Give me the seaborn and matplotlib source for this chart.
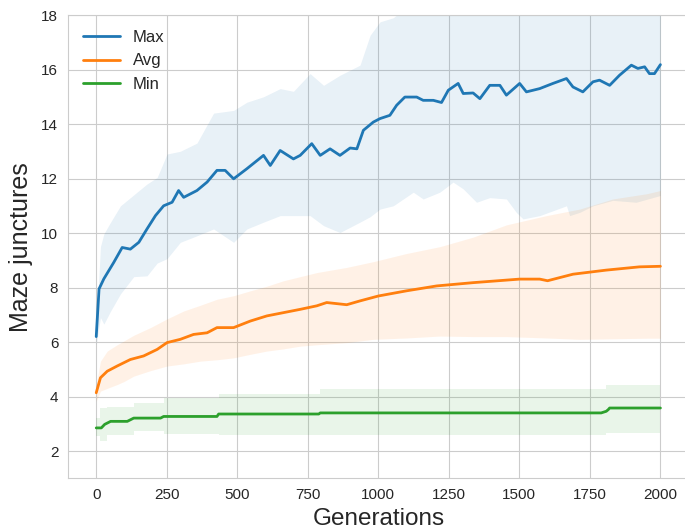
import numpy as np
import pandas as pd
import matplotlib
matplotlib.use("Agg")
import matplotlib.pyplot as plt
import seaborn as sns

# --- Max junctures per generation (mean line) ---
max_gen = [0, 10, 27, 62, 92, 121, 151, 180, 210, 239, 269, 292, 310, 357, 393,
           428, 457, 487, 534, 593, 617, 652, 699, 723, 764, 794, 829, 864, 900,
           924, 947, 982, 1006, 1041, 1065, 1094, 1136, 1159, 1195, 1224, 1248,
           1283, 1301, 1336, 1360, 1395, 1431, 1454, 1501, 1525, 1572, 1619, 1667,
           1690, 1725, 1761, 1784, 1820, 1855, 1897, 1920, 1944, 1961, 1979, 2000]
max_val = [6.2, 7.95, 8.32, 8.92, 9.47, 9.41, 9.66, 10.15, 10.64, 11.0, 11.13,
           11.56, 11.31, 11.56, 11.87, 12.30, 12.30, 11.99, 12.36, 12.85, 12.48,
           13.03, 12.72, 12.85, 13.28, 12.85, 13.09, 12.85, 13.12, 13.09, 13.77,
           14.07, 14.2, 14.32, 14.69, 14.99, 14.99, 14.87, 14.87, 14.79, 15.24,
           15.49, 15.12, 15.14, 14.93, 15.42, 15.42, 15.06, 15.49, 15.18, 15.30,
           15.49, 15.67, 15.36, 15.18, 15.55, 15.61, 15.42, 15.79, 16.16, 16.04,
           16.10, 15.85, 15.85, 16.18]

# Max spread (mean - std, mean + std)
max_band_gen = [0, 15, 27, 51, 86, 133, 180, 216, 251, 298, 357, 416, 487, 534,
                593, 652, 699, 758, 806, 864, 935, 971, 1006, 1053, 1124, 1159,
                1218, 1265, 1301, 1348, 1395, 1454, 1489, 1513, 1572, 1667, 1678,
                1714, 1761, 1831, 1914, 2000]
max_lo = [5.9, 6.9, 6.66, 7.14, 7.77, 8.4, 8.43, 8.9, 9.06, 9.66, 9.9, 10.15,
          9.66, 10.15, 10.4, 10.64, 10.64, 10.64, 10.27, 10.02, 10.4, 10.6, 10.88,
          11.0, 11.5, 11.25, 11.5, 11.87, 11.62, 11.13, 11.3, 11.25, 10.76, 10.52,
          10.64, 11.0, 10.64, 10.76, 11.0, 11.2, 11.13, 11.38]
max_hi = [6.5, 9.5, 9.97, 10.4, 11.0, 11.4, 11.8, 12.04, 12.9, 13.0, 13.3, 14.4,
          14.5, 14.8, 15.0, 15.3, 15.2, 15.85, 15.42, 15.79, 16.16, 17.26, 17.75,
          17.9, 18.5, 18.6, 18.6, 18.8, 18.8, 18.8, 19.0, 19.2, 19.4, 19.5, 19.6,
          19.8, 19.9, 19.8, 19.9, 20.0, 20.1, 20.2]

# --- Average junctures ---
avg_gen = [0, 15, 39, 74, 121, 168, 216, 251, 298, 345, 393, 428, 487, 546, 605,
           664, 723, 782, 817, 888, 935, 1000, 1100, 1207, 1336, 1501, 1572, 1600,
           1690, 1808, 1926, 2000]
avg_val = [4.14, 4.69, 4.93, 5.12, 5.36, 5.49, 5.73, 5.98, 6.10, 6.28, 6.34, 6.53,
           6.53, 6.77, 6.96, 7.08, 7.20, 7.33, 7.45, 7.37, 7.51, 7.69, 7.88, 8.06,
           8.18, 8.31, 8.31, 8.25, 8.49, 8.64, 8.76, 8.78]

avg_band_gen = [0, 15, 39, 74, 98, 133, 192, 251, 310, 369, 428, 487, 546, 605,
                664, 723, 782, 888, 982, 1100, 1218, 1336, 1454, 1596, 1714, 1831,
                1950, 2000]
avg_lo = [3.83, 4.2, 4.3, 4.44, 4.55, 4.75, 4.95, 5.12, 5.2, 5.3, 5.35, 5.42, 5.55,
          5.67, 5.75, 5.85, 5.9, 5.98, 6.10, 6.15, 6.22, 6.2, 6.2, 6.15, 6.10, 6.12,
          6.14, 6.14]
avg_hi = [4.45, 5.3, 5.67, 5.9, 6.04, 6.25, 6.53, 6.85, 7.14, 7.35, 7.57, 7.7,
          7.88, 8.05, 8.25, 8.4, 8.55, 8.74, 8.95, 9.25, 9.5, 9.85, 10.3, 10.64,
          10.88, 11.25, 11.44, 11.56]

# --- Minimum junctures ---
min_gen = [0, 18, 30, 51, 110, 133, 228, 239, 428, 434, 789, 794, 1790, 1808,
           1815, 1820, 2000]
min_val = [2.85, 2.85, 2.98, 3.09, 3.09, 3.21, 3.21, 3.27, 3.27, 3.36, 3.36, 3.40,
           3.40, 3.46, 3.52, 3.58, 3.58]

min_band_gen = [0, 15, 39, 133, 239, 434, 794, 1808, 2000]
min_lo = [2.54, 2.36, 2.6, 2.72, 2.63, 2.6, 2.6, 2.66, 2.66]
min_hi = [3.21, 3.58, 3.6, 3.76, 3.95, 4.1, 4.26, 4.44, 4.44]

x_ticks = [0, 250, 500, 750, 1000, 1250, 1500, 1750, 2000]
y_ticks = [2, 4, 6, 8, 10, 12, 14, 16, 18]

sns.set_style("whitegrid")
plt.rcParams["font.family"] = ["Liberation Sans", "DejaVu Sans"]

blue, orange, green = sns.color_palette("tab10")[:3]

fig = plt.figure(figsize=(6.85, 5.31), dpi=100)
ax = fig.add_axes([0.0993, 0.0992, 0.906, 0.8725])

series = [
    ("Max", max_gen, max_val, max_band_gen, max_lo, max_hi, blue, None),
    ("Avg", avg_gen, avg_val, avg_band_gen, avg_lo, avg_hi, orange, None),
    ("Min", min_gen, min_val, min_band_gen, min_lo, min_hi, green, "post"),
]

for name, gx, gy, bx, lo, hi, col, step in series:
    ax.fill_between(bx, lo, hi, color=col, alpha=0.1, linewidth=0, step=step)

for name, gx, gy, bx, lo, hi, col, step in series:
    df = pd.DataFrame({"Generation": gx, "Junctures": gy})
    sns.lineplot(data=df, x="Generation", y="Junctures", ax=ax, color=col,
                 label=name, linewidth=2.0, estimator=None, sort=False)

ax.set_xlim(-100, 2100)
ax.set_ylim(1, 18)
ax.set_xticks(x_ticks)
ax.set_yticks(y_ticks)
ax.tick_params(labelsize=11, colors=".15")
ax.set_xlabel("Generations", fontsize=17.5, color=".15")
ax.set_ylabel("Maze junctures", fontsize=18, color=".15", labelpad=6)
ax.legend(loc="upper left", frameon=False, fontsize=12, handlelength=2.2)

fig.savefig("out.png", dpi=100)
